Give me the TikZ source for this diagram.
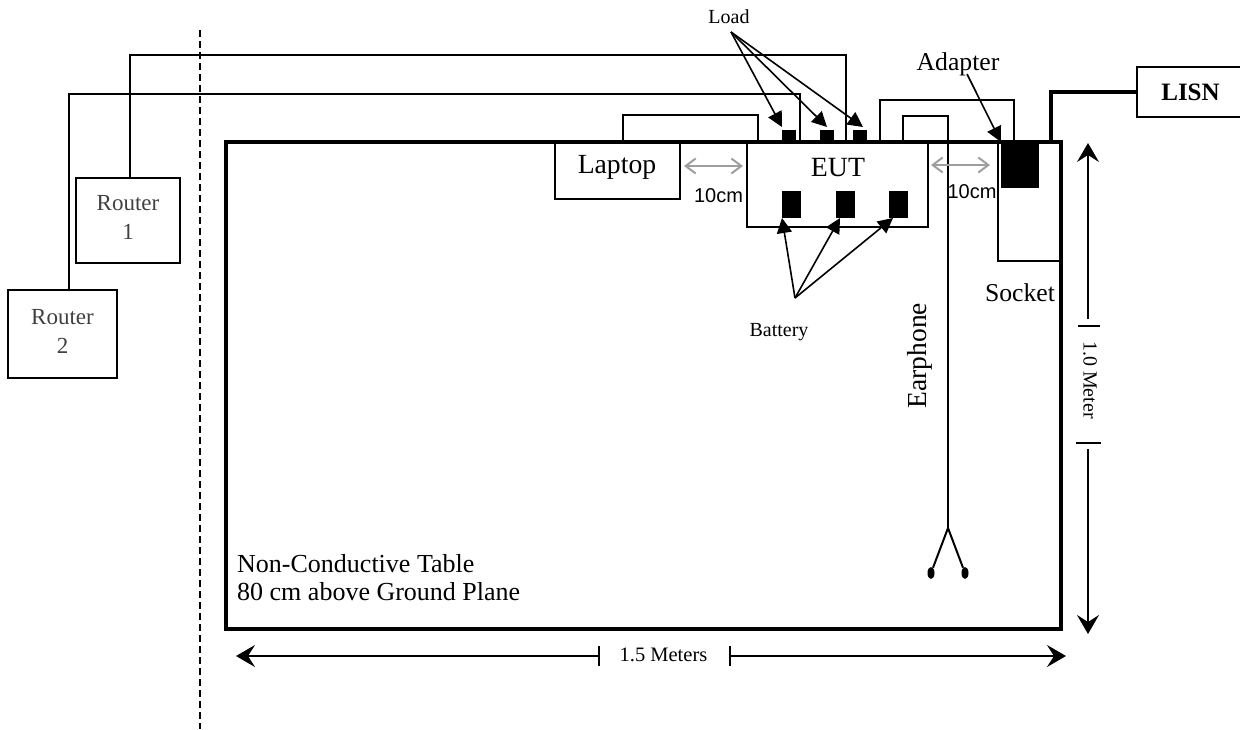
\documentclass[tikz,border=0pt]{standalone}
\usepackage{fontspec}
\setmainfont{Liberation Serif}
\newfontfamily\labelsans{Liberation Sans}
\usepackage{tikz}
\usetikzlibrary{arrows.meta,shapes.geometric}
\tikzset{
  boxnode/.style={draw,line width=2pt,inner sep=0pt,align=center},
  routernode/.style={boxnode,text=black!75,text depth=6pt,font=\fontsize{23}{29}\selectfont},
  blocknode/.style={fill=black,inner sep=0pt},
  budnode/.style={fill=black,ellipse,inner sep=0pt,minimum width=7pt,minimum height=12pt},
  labelnode/.style={inner sep=0pt,align=left},
  wire/.style={line width=2pt},
  power/.style={line width=4pt},
  pointer/.style={line width=1.6pt,-{Triangle[length=15pt,width=15pt]}},
  gapline/.style={line width=2pt,{Straight Barb[length=10pt,width=15pt]}-{Straight Barb[length=10pt,width=15pt]},color=black!38},
  sizeline/.style={line width=1.6pt,-{Stealth[length=19pt,width=22pt,inset=7pt]}}
}
\begin{document}
\begin{tikzpicture}[x=1pt,y=-1pt]
  \useasboundingbox (0,0) rectangle (1240,729);
  \draw[dash pattern=on 7pt off 4pt,line width=2pt] (200,30) -- (200,729);
  % routers
  \node[routernode,minimum width=104pt,minimum height=85pt] (router1) at (128,220.5) {Router\\1};
  \node[routernode,minimum width=109pt,minimum height=88pt] (router2) at (62.5,334) {Router\\2};
  % boxes on the table
  \node[boxnode,minimum width=125pt,minimum height=57pt] (laptop) at (617.5,170.5) {};
  \node[labelnode,font=\fontsize{27.7}{28}\selectfont] (laptoptext) at (617,167) {Laptop};
  \node[boxnode,minimum width=181pt,minimum height=85pt] (eut) at (837.5,184.5) {};
  \node[labelnode,font=\fontsize{27.8}{28}\selectfont] (euttext) at (838,168) {EUT};
  \node[boxnode,minimum width=64pt,minimum height=119pt] (socket) at (1030,201.5) {};
  \node[boxnode,minimum width=107pt,minimum height=50pt,font=\fontsize{25}{25}\selectfont\bfseries] (lisn) at (1190.5,92) {LISN};
  % table on top of the boxes
  \node[draw,line width=4pt,minimum width=835pt,minimum height=487pt,inner sep=0pt] (tablenode) at (643.5,385.5) {};
  \node[labelnode,font=\fontsize{26}{28}\selectfont,anchor=north west] (tabletext) at (237,554) {Non-Conductive Table\\80 cm above Ground Plane};
  \node[blocknode,minimum width=38pt,minimum height=46pt] (adapter) at (1020,165) {};
  % loads and batteries
  \node[blocknode,minimum width=14pt,minimum height=12pt] (load1) at (789,136) {};
  \node[blocknode,minimum width=14pt,minimum height=12pt] (load2) at (827,136) {};
  \node[blocknode,minimum width=14pt,minimum height=12pt] (load3) at (860,136) {};
  \node[blocknode,minimum width=19pt,minimum height=27pt] (battery1) at (791.5,204.5) {};
  \node[blocknode,minimum width=19pt,minimum height=27pt] (battery2) at (845.5,204.5) {};
  \node[blocknode,minimum width=19pt,minimum height=27pt] (battery3) at (898.5,204.5) {};
  % wires
  \coordinate (r1pin) at (130,178);
  \coordinate (r2pin) at (69,290);
  \draw[wire] (r1pin) -- (130,54.5) -- (846,54.5) -- (846,142);
  \draw[wire] (r2pin) -- (69,94) -- (800,94) -- (800,142);
  \draw[wire] (623,142) -- (623,115) -- (757.5,115) -- (757.5,142);
  \draw[wire] (880,142) -- (880,100) -- (1014,100) -- (1014,140);
  \draw[power] (1051,142) |- (lisn.west);
  % earphone
  \coordinate (splitpin) at (948,528);
  \node[budnode] (bud1) at (931,573) {};
  \node[budnode] (bud2) at (965,573) {};
  \draw[wire] (902.5,142) -- (902.5,116) -- (948,116) -- (splitpin);
  \draw[wire] (bud1) -- (splitpin) -- (bud2);
  \node[labelnode,rotate=90,font=\fontsize{27.5}{28}\selectfont] (earphone) at (920,355.5) {Earphone};
  % labels and their pointers
  \node[labelnode,font=\fontsize{20}{20}\selectfont] (loadtext) at (729,17) {Load};
  \node[labelnode,font=\fontsize{20}{20}\selectfont] (batterytext) at (779,332) {Battery};
  \node[labelnode,font=\fontsize{25.7}{26}\selectfont] (adaptertext) at (958,64.5) {Adapter};
  \node[labelnode,font=\fontsize{25.7}{26}\selectfont] (sockettext) at (1020,293) {Socket};
  \coordinate (loadfrom) at (731,32);
  \coordinate (batfrom) at (795,298);
  \coordinate (adaptfrom) at (967,74);
  \draw[pointer] (loadfrom) -- (782,127);
  \draw[pointer] (loadfrom) -- (827,127);
  \draw[pointer] (loadfrom) -- (863,127);
  \draw[pointer] (batfrom) -- (782,218);
  \draw[pointer] (batfrom) -- (840,218);
  \draw[pointer] (batfrom) -- (893,218);
  \draw[pointer] (adaptfrom) -- (adapter.north west);
  % spacing marks
  \draw[gapline] (684,166) -- (743,166);
  \draw[gapline] (931,165) -- (990,165);
  \node[labelnode,font=\fontsize{20}{20}\selectfont\labelsans] (gap1) at (718.5,196) {10cm};
  \node[labelnode,font=\fontsize{20}{20}\selectfont\labelsans] (gap2) at (972,192) {10cm};
  % table size marks
  \node[labelnode,font=\fontsize{20.5}{20}\selectfont] (widthtext) at (663.5,655) {1.5 Meters};
  \node[labelnode,rotate=-90,font=\fontsize{20}{20}\selectfont] (heighttext) at (1090,380) {1.0 Meter};
  \coordinate (w1) at (599,656);
  \coordinate (w2) at (730,656);
  \coordinate (h1) at (1088,319);
  \coordinate (h2) at (1088,449);
  \draw[sizeline] (w1) -- (236,656);
  \draw[sizeline] (w2) -- (1066,656);
  \draw[sizeline] (h1) -- (1088,143);
  \draw[sizeline] (h2) -- (1088,634);
  \draw[wire] (599,646) -- (599,666);
  \draw[wire] (730,646) -- (730,666);
  \draw[wire] (1078,326) -- (1100,326);
  \draw[wire] (1076,443) -- (1101,443);
\end{tikzpicture}
\end{document}
